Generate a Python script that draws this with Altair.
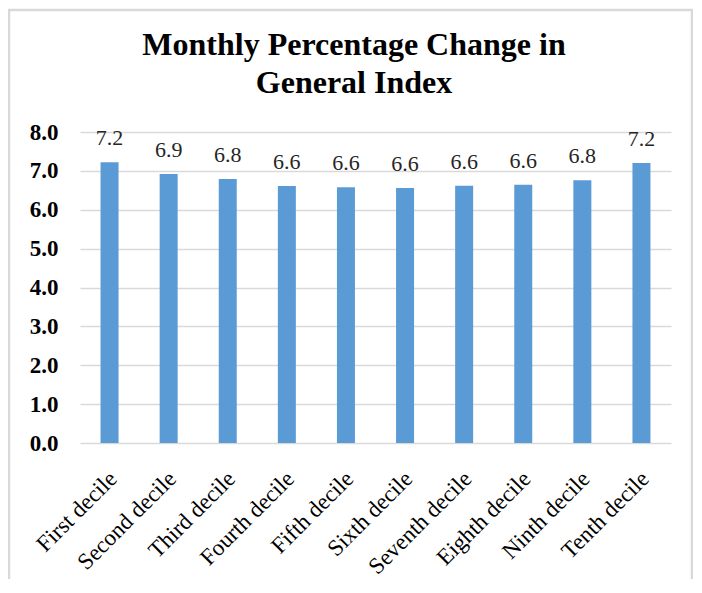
import altair as alt
import pandas as pd

categories = ["First decile", "Second decile", "Third decile", "Fourth decile", "Fifth decile",
              "Sixth decile", "Seventh decile", "Eighth decile", "Ninth decile", "Tenth decile"]
values = [7.22, 6.92, 6.79, 6.61, 6.58, 6.56, 6.62, 6.64, 6.76, 7.20]
y_ticks = [0, 1, 2, 3, 4, 5, 6, 7, 8]
title_line1 = "Monthly Percentage Change in"
title_line2 = "General Index"

df = pd.DataFrame({"cat": categories, "val": values})
df["lab"] = df["val"].map(lambda v: f"{v:.1f}")

FONT = "Liberation Serif"

x_enc = alt.X("cat:N", sort=categories, title=None,
              scale=alt.Scale(paddingInner=0, paddingOuter=0))
y_enc = alt.Y("val:Q", title=None, scale=alt.Scale(domain=[0, 8], nice=False),
              axis=alt.Axis(values=y_ticks, format=".1f"))

base = alt.Chart(df).encode(x=x_enc, y=y_enc)
bars = base.mark_bar(size=18, color="#5b9bd5")
labels = base.mark_text(font=FONT, fontSize=22, color="#262626",
                        baseline="alphabetic", dy=-17).encode(text="lab:N")


def title_text(line, ypos):
    return alt.Chart(pd.DataFrame({"line": [line]})).mark_text(
        font=FONT, fontSize=32, fontWeight="bold", color="black",
        baseline="alphabetic", align="center").encode(
        text="line:N", x=alt.value(274), y=alt.value(ypos))


t1 = title_text(title_line1, -77)
t2 = title_text(title_line2, -39)

frame = alt.Chart(pd.DataFrame({"k": [0]})).mark_rect(
    fill=None, stroke="#d9d9d9", strokeWidth=2.5).encode(
    x=alt.value(-71), x2=alt.value(612), y=alt.value(-122), y2=alt.value(500))

chart = alt.layer(frame, bars, labels, t1, t2).properties(
    width=591, height=311,
    autosize=alt.AutoSizeParams(type="none"),
    padding={"left": 72, "top": 124, "right": 22, "bottom": 136},
).configure_view(stroke=None).configure_axisX(
    labelAngle=-45, labelFont=FONT, labelFontSize=23, labelColor="black",
    ticks=False, domain=False, grid=False, labelPadding=24, labelOffset=-4,
    labelLimit=250,
).configure_axisY(
    labelFont=FONT, labelFontSize=23, labelFontWeight="bold", labelColor="black",
    ticks=False, labelOverlap=False, domain=False, labelPadding=22,
    grid=True, gridColor="#d9d9d9", gridWidth=1.3,
)

chart.save("out.html", embed_options={"renderer": "svg", "actions": False})
